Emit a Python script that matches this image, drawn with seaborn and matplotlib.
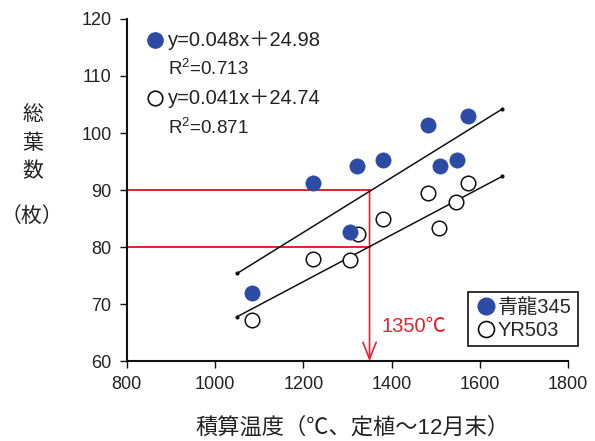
import matplotlib
matplotlib.use("Agg")
import matplotlib.pyplot as plt
import seaborn as sns
import pandas as pd
from matplotlib.lines import Line2D

# ---- data ----
temp_blue = [1084, 1222, 1306, 1321, 1380, 1482, 1509, 1547, 1574]
leaves_blue = [72.0, 91.2, 82.6, 94.2, 95.2, 101.4, 94.2, 95.2, 103.0]
temp_open = [1084, 1222, 1306, 1324, 1380, 1482, 1508, 1546, 1573]
leaves_open = [67.2, 78.0, 77.7, 82.3, 84.9, 89.5, 83.4, 87.9, 91.3]
varieties = ["青龍345", "YR503"]
slopes = [0.048, 0.041]
intercepts = [24.98, 24.74]
fit_range = [1050, 1650]
eq_labels = ["y=0.048x＋24.98", "y=0.041x＋24.74"]
r2_labels = ["R$^2$=0.713", "R$^2$=0.871"]
x_ticks = [800, 1000, 1200, 1400, 1600, 1800]
y_ticks = [60, 70, 80, 90, 100, 110, 120]
ref_temp = 1350
ref_leaves = [90, 80]
ref_label = "1350℃"
xlabel = "積算温度（℃、定植～12月末）"
ylabel_chars = ["総", "葉", "数"]
ylabel_unit = "（枚）"

sns.set_theme(style="ticks")
plt.rcParams["font.family"] = ["Liberation Sans", "Noto Sans CJK JP", "DejaVu Sans"]
plt.rcParams["mathtext.fontset"] = "custom"
plt.rcParams["mathtext.rm"] = "Liberation Sans"

BLUE = "#2B4BA5"
RED = "#E8202A"
TXT = "#222222"

df = pd.DataFrame({
    "temp": temp_blue + temp_open,
    "leaves": leaves_blue + leaves_open,
    "variety": [varieties[0]] * len(temp_blue) + [varieties[1]] * len(temp_open),
})

fig = plt.figure(figsize=(5.95, 4.41), dpi=100)
ax = fig.add_axes([0.213, 0.181, 0.742, 0.776])

# reference lines (red)
for yv in ref_leaves:
    ax.plot([x_ticks[0], ref_temp], [yv, yv], color=RED, lw=1.4, zorder=1)
ax.annotate("", xy=(ref_temp, y_ticks[0]), xytext=(ref_temp, max(ref_leaves)),
            arrowprops=dict(arrowstyle="->,head_length=1.0,head_width=0.4",
                            color=RED, lw=1.2, shrinkA=0, shrinkB=0), zorder=1)
ax.text(ref_temp + 28, 66.0, ref_label, color=RED, fontsize=14.5, va="center", ha="left")

# regression lines
for s, b in zip(slopes, intercepts):
    xs = fit_range
    ys = [s * x + b for x in xs]
    sns.lineplot(x=xs, y=ys, ax=ax, color="#111111", lw=1.1, zorder=2)
    ax.plot(xs, ys, ls="none", marker="o", ms=2, color="#111111", zorder=2)

# points
sns.scatterplot(data=df[df.variety == varieties[1]], x="temp", y="leaves", ax=ax,
                s=110, facecolor="white", edgecolor="#111111", linewidth=1.1,
                legend=False, zorder=3)
sns.scatterplot(data=df[df.variety == varieties[0]], x="temp", y="leaves", ax=ax,
                s=120, color=BLUE, edgecolor=BLUE, linewidth=0.5,
                legend=False, zorder=4)

ax.set_xlim(x_ticks[0], x_ticks[-1])
ax.set_ylim(y_ticks[0], y_ticks[-1])
ax.set_xticks(x_ticks)
ax.set_yticks(y_ticks)
ax.tick_params(axis="both", labelsize=13, length=5, width=1, color="#111111",
               labelcolor=TXT, direction="out", pad=6)
for sp in ["top", "right"]:
    ax.spines[sp].set_visible(False)
for sp in ["left", "bottom"]:
    ax.spines[sp].set_color("#111111")
    ax.spines[sp].set_linewidth(1.5)
ax.set_xlabel("")
ax.set_ylabel("")

# equation annotations
eq_y = [116.3, 106.1]
r2_y = [111.3, 100.9]
ax.plot([864], [eq_y[0]], marker="o", ms=11, color=BLUE, clip_on=False, ls="none")
ax.plot([864], [eq_y[1]], marker="o", ms=10.5, mfc="white", mec="#111111", mew=1.2,
        clip_on=False, ls="none")
for i in range(2):
    ax.text(893, eq_y[i], eq_labels[i], fontsize=14.5, va="center", ha="left", color=TXT)
    ax.text(893, r2_y[i], r2_labels[i], fontsize=13.5, va="center", ha="left", color=TXT)

# legend
handles = [
    Line2D([], [], ls="none", marker="o", ms=12, color=BLUE),
    Line2D([], [], ls="none", marker="o", ms=11.5, mfc="white", mec="#111111", mew=1.2),
]
leg = ax.legend(handles, varieties, loc="lower left", bbox_to_anchor=(0.772, 0.043),
                fontsize=14.5, frameon=True, fancybox=False, edgecolor="#111111",
                framealpha=1, handletextpad=0.0, handlelength=1.2, borderpad=0.3,
                labelspacing=0.2, borderaxespad=0)
leg.get_frame().set_linewidth(1.2)
leg.set_zorder(5)

# axis labels
fig.text(353 / 595, 1 - 428 / 441, xlabel, fontsize=16, ha="center", va="center", color=TXT)
for ch, py in zip(ylabel_chars, [115, 143, 171]):
    fig.text(33 / 595, 1 - py / 441, ch, fontsize=15, ha="center", va="center", color=TXT)
fig.text(32 / 595, 1 - 216 / 441, ylabel_unit, fontsize=15, ha="center", va="center",
         color=TXT)

fig.savefig("out.png", dpi=100)
